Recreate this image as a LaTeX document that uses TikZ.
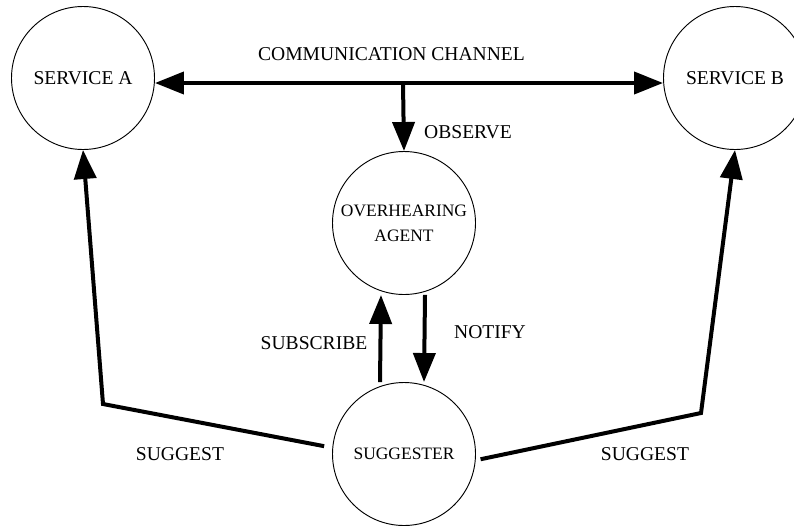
\documentclass[tikz,border=0pt]{standalone}
\usepackage{fontspec}
\setmainfont{Liberation Serif}
\usetikzlibrary{arrows.meta}

\begin{document}
\begin{tikzpicture}[
    node distance=1cm,
    service/.style={circle, draw, line width=0.8pt, minimum size=4.29cm, inner sep=0pt, font=\fontsize{16.7}{20}\selectfont},
    actor/.style={circle, draw, line width=0.8pt, minimum size=4.29cm, inner sep=0pt, align=center, font=\fontsize{14.9}{21.3}\selectfont},
    msg/.style={inner sep=0pt, font=\fontsize{16.7}{20}\selectfont},
    arrow/.style={line width=0.12cm, ->, >={Triangle[length=0.87cm, width=0.66cm]}}
]
    \useasboundingbox (-2.49,2.34) rectangle (21.33,-13.41);

    % Services
    \node [service] (sa) {SERVICE A};
    \node [service, right of=sa, xshift=18.56cm] (sb) {SERVICE B};

    % Agents
    \node [actor, below of=sa, xshift=9.63cm, yshift=-3.35cm] (agent) {OVERHEARING\\AGENT};
    \node [actor, below of=agent, yshift=-5.93cm] (sugg) {SUGGESTER};

    % Bends
    \coordinate (tap) at (9.6,-0.15);
    \coordinate (cA) at (0.6,-9.78);
    \coordinate (cB) at (18.54,-10.05);

    % Arrows
    \draw [arrow, <->] ([yshift=-0.15cm]sa.east) -- ([yshift=-0.15cm]sb.west);
    \draw [arrow] (tap) -- (agent.north);
    \draw [arrow] ([xshift=-0.72cm]sugg.north) -- ([xshift=-0.69cm]agent.south);
    \draw [arrow] ([xshift=0.63cm]agent.south) -- ([xshift=0.6cm]sugg.north);
    \draw [arrow, shorten <=0.25cm] (sugg.175) -- (cA) -- (sa.south);
    \draw [arrow, shorten <=0.15cm] (sugg.-5) -- (cB) -- (sb.south);

    % Labels
    \node [msg, above of=agent, xshift=-0.375cm, yshift=4.055cm] (chanlbl) {COMMUNICATION CHANNEL};
    \node [msg, above of=agent, xshift=1.92cm, yshift=1.73cm] (obslbl) {OBSERVE};
    \node [msg, below of=agent, xshift=-2.7cm, yshift=-2.59cm] (sublbl) {SUBSCRIBE};
    \node [msg, below of=agent, xshift=2.58cm, yshift=-2.26cm] (notlbl) {NOTIFY};
    \node [msg, left of=sugg, xshift=-5.72cm] (sugalbl) {SUGGEST};
    \node [msg, right of=sugg, xshift=6.23cm] (sugblbl) {SUGGEST};
\end{tikzpicture}
\end{document}
